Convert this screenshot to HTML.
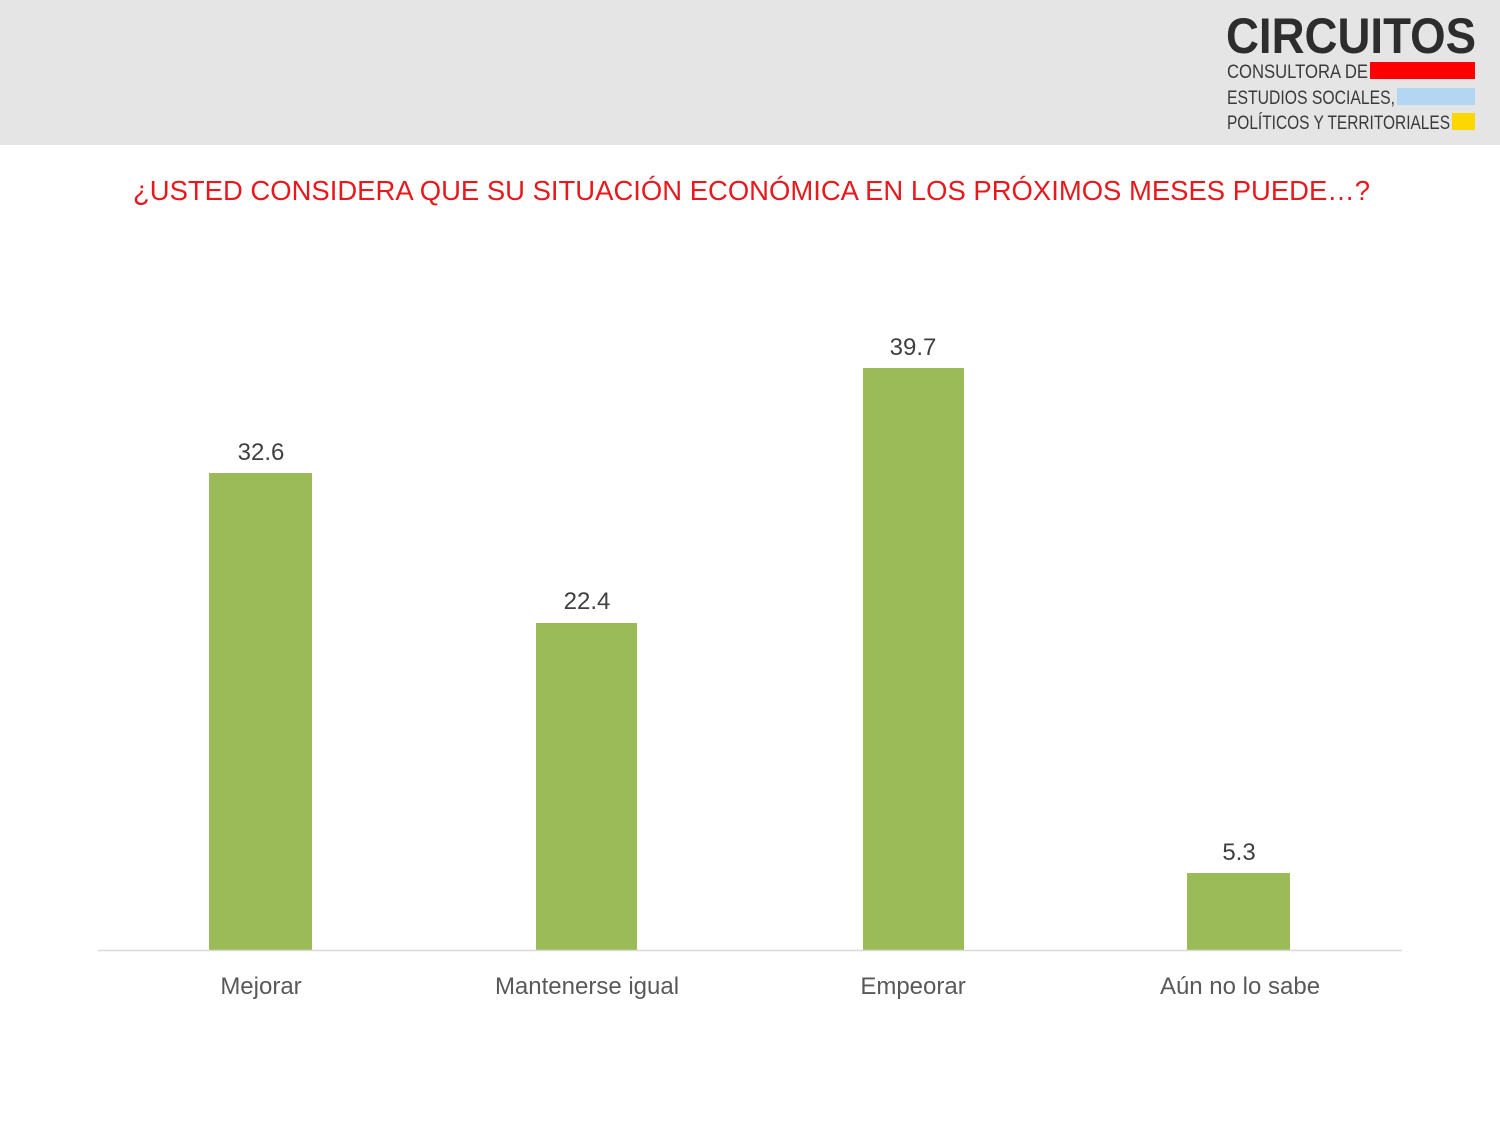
<!DOCTYPE html>
<html><head><meta charset="utf-8"><style>
body{margin:0;background:#fff;}
svg{display:block;font-family:"Liberation Sans",Arial,sans-serif;}
</style></head><body>
<svg width="1500" height="1125" viewBox="0 0 1500 1125" xmlns="http://www.w3.org/2000/svg">
<rect x="0" y="0" width="1500" height="145" fill="#e5e5e5"/>
<text x="1226" y="53" font-size="50" font-weight="bold" fill="#2d2d2d" textLength="250" lengthAdjust="spacingAndGlyphs">CIRCUITOS</text>
<text x="1227" y="78" font-size="19" fill="#3a3a3a" textLength="141" lengthAdjust="spacingAndGlyphs">CONSULTORA DE</text>
<rect x="1370" y="62" width="105" height="17" fill="#ff0000"/>
<text x="1227" y="104" font-size="19" fill="#3a3a3a" textLength="168" lengthAdjust="spacingAndGlyphs">ESTUDIOS SOCIALES,</text>
<rect x="1397" y="88" width="78" height="17" fill="#b3d7f2"/>
<text x="1227" y="129" font-size="19" fill="#3a3a3a" textLength="223" lengthAdjust="spacingAndGlyphs">POLÍTICOS Y TERRITORIALES</text>
<rect x="1452" y="113" width="23" height="17" fill="#ffd700"/>
<text x="133" y="200" font-size="28" fill="#e8191c" textLength="1237" lengthAdjust="spacingAndGlyphs">¿USTED CONSIDERA QUE SU SITUACIÓN ECONÓMICA EN LOS PRÓXIMOS MESES PUEDE…?</text>
<g fill="#9bbb59">
<rect x="209" y="473" width="103" height="477"/>
<rect x="536" y="623" width="101" height="327"/>
<rect x="863" y="368" width="101" height="582"/>
<rect x="1187" y="873" width="103" height="77"/>
</g>
<line x1="98" y1="950.5" x2="1402" y2="950.5" stroke="#d9d9d9" stroke-width="1.5"/>
<g font-size="24" fill="#404040" text-anchor="middle">
<text x="261" y="460">32.6</text>
<text x="587" y="609">22.4</text>
<text x="913" y="355">39.7</text>
<text x="1239" y="860">5.3</text>
</g>
<g font-size="24" fill="#595959" text-anchor="middle">
<text x="261" y="994">Mejorar</text>
<text x="587" y="994">Mantenerse igual</text>
<text x="913" y="994">Empeorar</text>
<text x="1240" y="994">Aún no lo sabe</text>
</g>
</svg>
</body></html>
